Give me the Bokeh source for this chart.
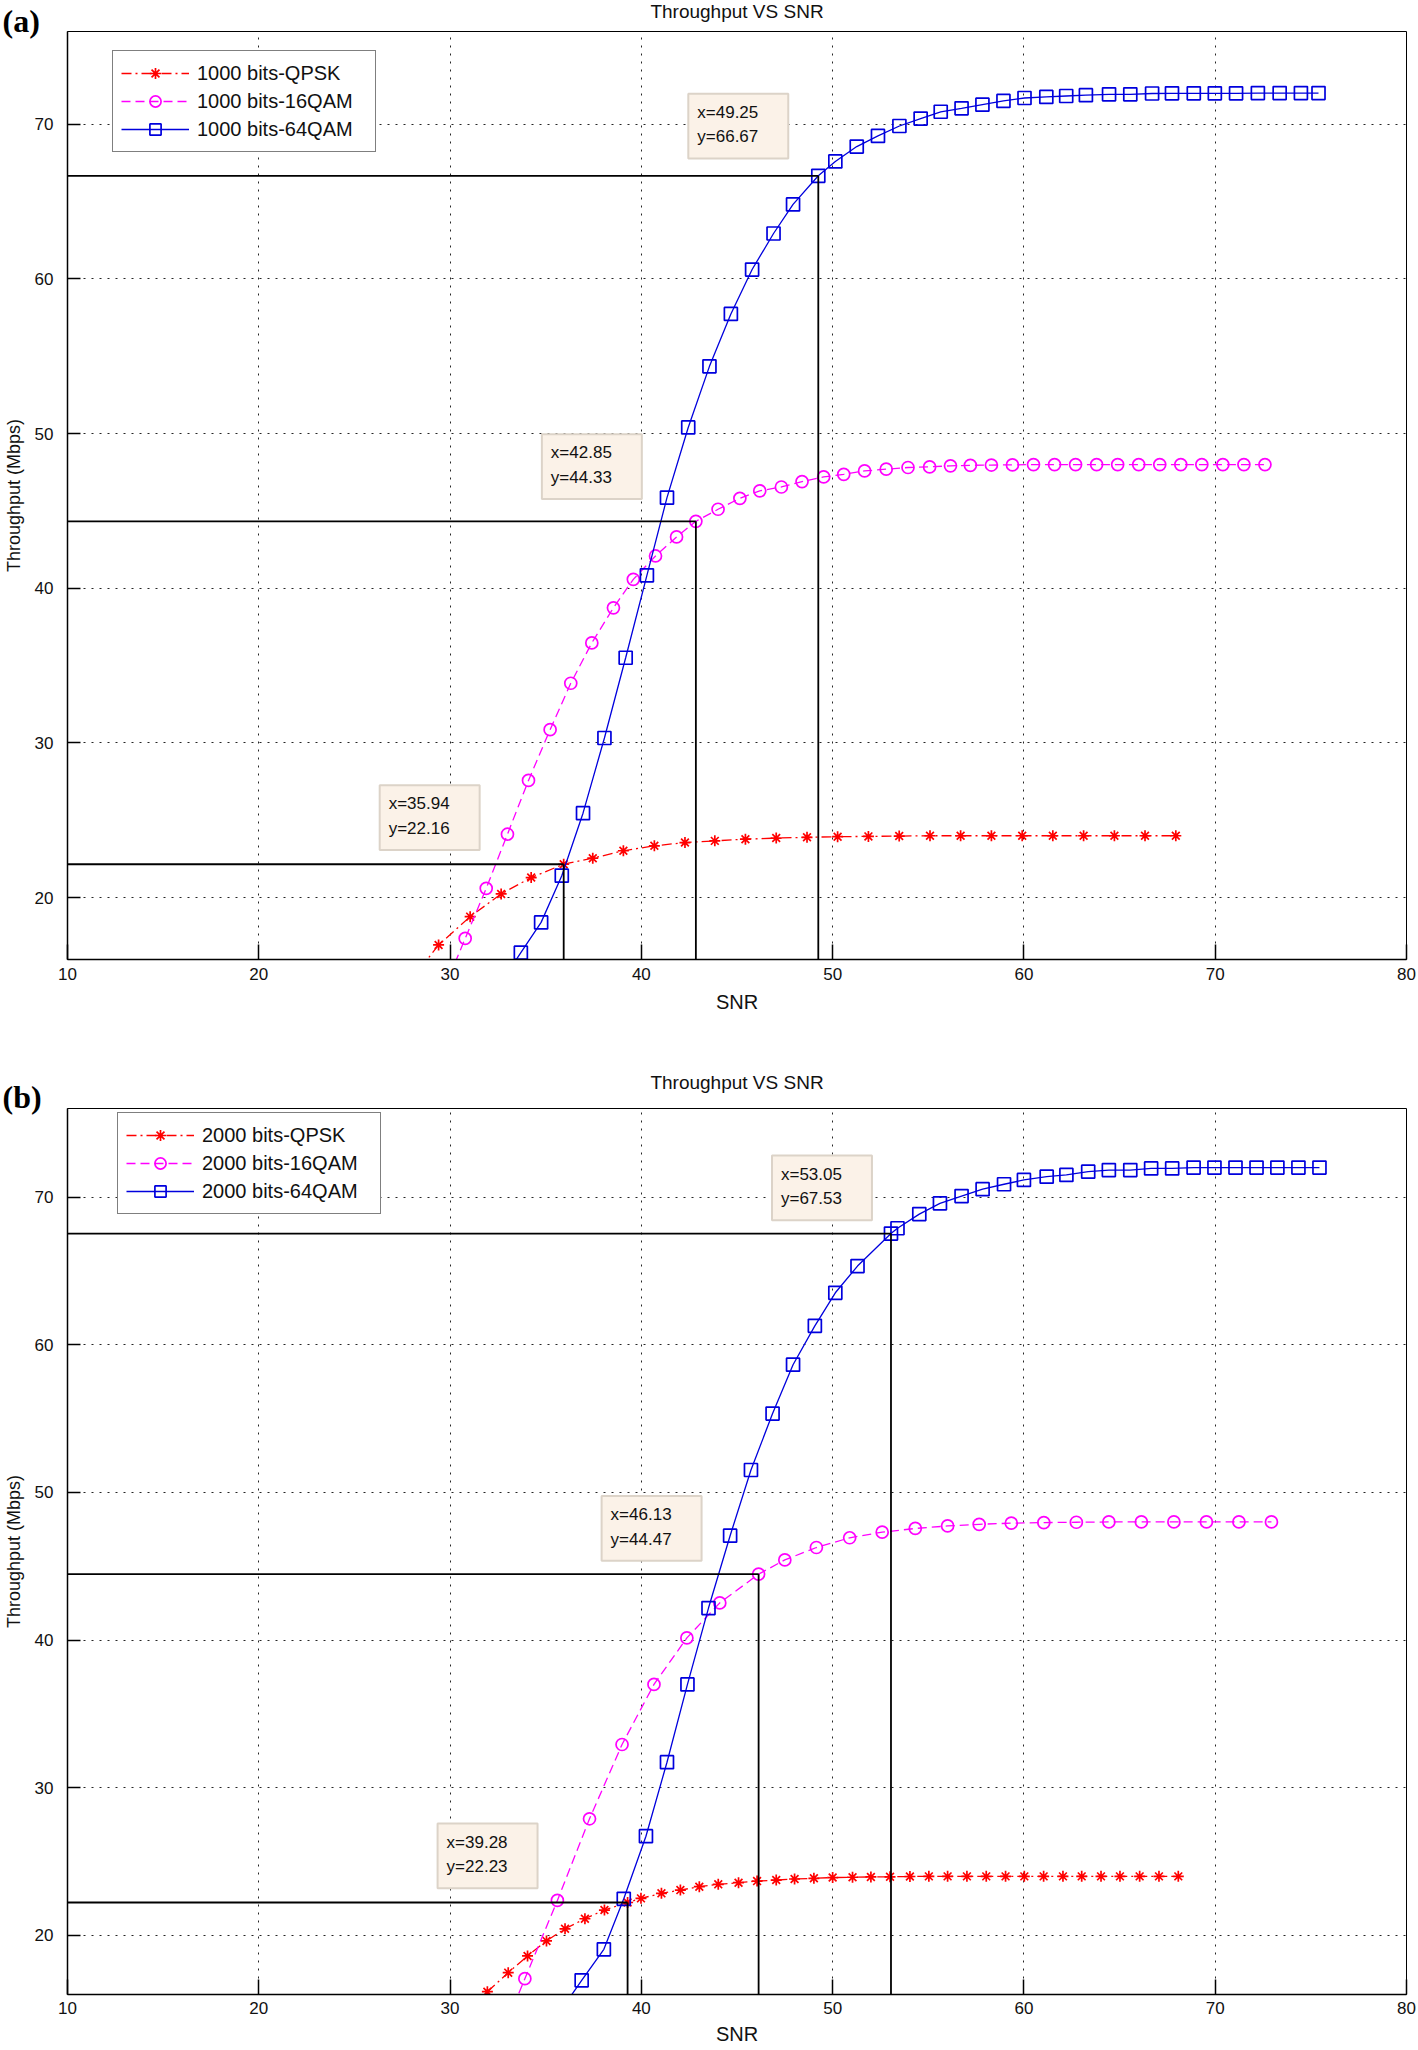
from bokeh.plotting import figure
from bokeh.layouts import column
from bokeh.models import Label, Legend, LegendItem, FixedTicker, Range1d, Title
from bokeh.embed import file_html
from bokeh.resources import INLINE

# ---------------- data : panel (a) ----------------
a_qpsk_x = [27.8, 29.40, 31.05, 32.67, 34.24, 35.94, 37.46, 39.06, 40.68, 42.28, 43.84, 45.44, 47.05,
            48.66, 50.26, 51.87, 53.48, 55.09, 56.69, 58.30, 59.91, 61.51, 63.12, 64.73, 66.33, 67.94]
a_qpsk_y = [14.4, 16.94, 18.77, 20.24, 21.30, 22.16, 22.55, 23.03, 23.35, 23.56, 23.67, 23.78, 23.85,
            23.90, 23.94, 23.96, 23.98, 24.0, 24.0, 24.0, 24.0, 24.0, 24.0, 24.0, 24.0, 24.0]

a_16qam_x = [29.69, 30.79, 31.89, 33.00, 34.10, 35.23, 36.31, 37.41, 38.54, 39.58, 40.74, 41.84, 42.85,
             44.01, 45.15, 46.19, 47.32, 48.40, 49.53, 50.58, 51.67, 52.80, 53.94, 55.07, 56.16, 57.2,
             58.3, 59.4, 60.5, 61.6, 62.7, 63.8, 64.9, 66.0, 67.1, 68.2, 69.3, 70.4, 71.5, 72.6]
a_16qam_y = [14.1, 17.36, 20.60, 24.10, 27.58, 30.86, 33.86, 36.47, 38.74, 40.58, 42.09, 43.32, 44.33,
             45.11, 45.82, 46.30, 46.55, 46.90, 47.20, 47.37, 47.59, 47.70, 47.81, 47.85, 47.92, 47.95,
             47.97, 47.98, 48.0, 48.0, 48.0, 48.0, 48.0, 48.0, 48.0, 48.0, 48.0, 48.0, 48.0, 48.0]

a_64qam_x = [32.6, 33.70, 34.76, 35.84, 36.95, 38.07, 39.18, 40.29, 41.34, 42.45, 43.56, 44.68, 45.79,
             46.91, 47.93, 49.25, 50.14, 51.26, 52.37, 53.49, 54.60, 55.65, 56.74, 57.83, 58.93, 60.03,
             61.17, 62.21, 63.24, 64.45, 65.56, 66.70, 67.74, 68.88, 69.98, 71.09, 72.23, 73.37, 74.48, 75.40]
a_64qam_y = [14.4, 16.44, 18.40, 21.42, 25.46, 30.32, 35.51, 40.84, 45.86, 50.40, 54.35, 57.74, 60.61,
             62.94, 64.82, 66.67, 67.6, 68.56, 69.25, 69.89, 70.37, 70.81, 71.03, 71.27, 71.51, 71.70,
             71.77, 71.83, 71.88, 71.94, 71.94, 71.99, 72.0, 72.0, 72.0, 72.0, 72.02, 72.02, 72.02, 72.02]

a_tips_x = [35.94, 42.85, 49.25]
a_tips_y = [22.16, 44.33, 66.67]

# ---------------- data : panel (b) ----------------
b_qpsk_x = [31.95, 33.04, 34.05, 35.04, 36.01, 37.05, 38.07, 39.28, 39.98, 41.05, 42.04, 43.03, 44.02,
            45.08, 46.05, 47.05, 48.01, 49.02, 50.0, 51.04, 52.0, 53.0, 54.04, 55.03, 56.01, 57.02,
            58.03, 59.04, 60.02, 61.03, 62.04, 63.02, 64.03, 65.02, 66.05, 67.06, 68.07]
b_qpsk_y = [16.19, 17.48, 18.61, 19.63, 20.45, 21.13, 21.72, 22.23, 22.51, 22.85, 23.07, 23.30, 23.46,
            23.57, 23.68, 23.75, 23.82, 23.87, 23.92, 23.94, 23.96, 23.97, 23.99, 24.0, 24.0, 24.0,
            24.0, 24.0, 24.0, 24.0, 24.0, 24.0, 24.0, 24.0, 24.0, 24.0, 24.0]

b_16qam_x = [32.2, 33.91, 35.61, 37.29, 38.99, 40.66, 42.38, 44.10, 46.13, 47.50, 49.15, 50.89, 52.59,
             54.32, 56.01, 57.66, 59.34, 61.04, 62.74, 64.44, 66.14, 67.84, 69.54, 71.24, 72.94]
b_16qam_y = [11.7, 17.07, 22.37, 27.90, 32.93, 37.0, 40.15, 42.52, 44.47, 45.43, 46.27, 46.93, 47.31,
             47.56, 47.73, 47.84, 47.92, 47.96, 47.98, 48.0, 48.0, 48.0, 48.0, 48.0, 48.0]

b_64qam_x = [35.78, 36.88, 38.04, 39.08, 40.24, 41.34, 42.41, 43.51, 44.64, 45.73, 46.86, 47.93, 49.07,
             50.14, 51.30, 53.05, 53.39, 54.53, 55.61, 56.74, 57.84, 58.96, 60.0, 61.19, 62.22, 63.36,
             64.44, 65.56, 66.65, 67.75, 68.87, 69.96, 71.06, 72.16, 73.25, 74.35, 75.45]
b_64qam_y = [14.9, 16.96, 19.06, 22.48, 26.72, 31.73, 37.0, 42.17, 47.07, 51.52, 55.34, 58.65, 61.28,
             63.52, 65.33, 67.53, 67.89, 68.85, 69.58, 70.07, 70.54, 70.87, 71.16, 71.38, 71.50, 71.72,
             71.83, 71.83, 71.94, 71.94, 72.0, 72.0, 72.0, 72.0, 72.0, 72.0, 72.0]

b_tips_x = [39.28, 46.13, 53.05]
b_tips_y = [22.23, 44.47, 67.53]

x_ticks = [10, 20, 30, 40, 50, 60, 70, 80]
y_ticks = [20, 30, 40, 50, 60, 70]
x_limits = (10, 80)
y_limits = (16, 76)

title_text = "Throughput VS SNR"
x_label = "SNR"
y_label = "Throughput (Mbps)"

# ---------------- styles ----------------
FONT = "Liberation Sans"
RED, MAGENTA, BLUE = "#FF0000", "#FF00FF", "#0000DD"
TIP_FILL, TIP_BORDER = "#FBF2E8", "#DCD3C8"


def make_panel(letter, labels, series, tips_x, tips_y, tip_offsets, legend_loc,
               height, border_top, border_bottom, title_standoff, letter_standoff,
               xlab_standoff, xaxis_label_standoff):
    p = figure(width=1418, height=height,
               x_range=Range1d(*x_limits), y_range=Range1d(*y_limits),
               output_backend="svg", toolbar_location=None, title=None,
               min_border_left=65, min_border_right=12,
               min_border_top=border_top, min_border_bottom=border_bottom,
               background_fill_color="white", border_fill_color="white")

    # panel letter (closest to frame) and the title above it
    p.add_layout(Title(text=letter, align="left", offset=-65, standoff=letter_standoff,
                       vertical_align="top",
                       text_font="Liberation Serif", text_font_style="bold",
                       text_font_size="32px", text_color="black"), "above")
    p.add_layout(Title(text=title_text, align="center", standoff=title_standoff,
                       vertical_align="bottom",
                       text_font=FONT, text_font_style="normal", text_font_size="19px",
                       text_color="#111111"), "above")

    p.outline_line_color = "black"
    p.outline_line_width = 1

    p.xaxis.ticker = FixedTicker(ticks=x_ticks)
    p.yaxis.ticker = FixedTicker(ticks=y_ticks)
    p.xgrid.ticker = FixedTicker(ticks=x_ticks)
    p.ygrid.ticker = FixedTicker(ticks=y_ticks)
    p.grid.grid_line_color = "black"
    p.grid.grid_line_dash = "2 6"
    p.grid.grid_line_alpha = 0.85
    p.grid.grid_line_width = 1

    for ax in (p.xaxis[0], p.yaxis[0]):
        ax.major_tick_out = 0
        ax.minor_tick_in = 0
        ax.minor_tick_out = 0
        ax.axis_line_color = "black"
        ax.axis_line_width = 1.5
        ax.major_tick_line_color = "black"
        ax.major_tick_line_width = 1.5
        ax.major_label_text_font = FONT
        ax.major_label_text_font_size = "17px"
        ax.major_label_text_color = "#111111"
        ax.axis_label_text_font = FONT
        ax.axis_label_text_font_style = "normal"
        ax.axis_label_text_color = "#111111"
    p.xaxis.major_tick_in = 15
    p.yaxis.major_tick_in = 13
    p.xaxis.axis_label = x_label
    p.yaxis.axis_label = y_label
    p.xaxis.axis_label_text_font_size = "20px"
    p.yaxis.axis_label_text_font_size = "18px"
    p.xaxis.major_label_standoff = xlab_standoff
    p.xaxis.axis_label_standoff = xaxis_label_standoff
    p.yaxis.major_label_standoff = 14
    p.yaxis.axis_label_standoff = 8

    items = []
    for (xs, ys, color, dash, marker, size), lab in zip(series, labels):
        r_line = p.line(xs, ys, line_color=color, line_width=1.3, line_dash=dash)
        r_pts = p.scatter(xs, ys, marker=marker, size=size, line_color=color,
                          fill_color=None, line_width=1.7)
        items.append(LegendItem(label=lab, renderers=[r_line, r_pts]))

    # data-tip reference lines
    n = len(tips_x)
    p.segment(x0=[x_limits[0]] * n, y0=tips_y, x1=tips_x, y1=tips_y,
              line_color="black", line_width=1.8)
    p.segment(x0=tips_x, y0=[y_limits[0]] * n, x1=tips_x, y1=tips_y,
              line_color="black", line_width=1.8)

    for tx, ty, (ox, oy) in zip(tips_x, tips_y, tip_offsets):
        p.add_layout(Label(x=tx, y=ty, x_offset=ox, y_offset=oy,
                           text=f"x={tx:.2f}\ny={ty:.2f}",
                           text_font=FONT, text_font_size="17px", text_color="#111111",
                           text_align="left", text_baseline="top", text_line_height=1.3,
                           background_fill_color=TIP_FILL, border_line_color=TIP_BORDER,
                           border_line_width=2,
                           padding=dict(left=9, right=30, top=9, bottom=12)))

    legend = Legend(items=items, location=legend_loc)
    legend.label_text_font = FONT
    legend.label_text_font_size = "20px"
    legend.label_text_color = "#111111"
    legend.glyph_width = 68
    legend.glyph_height = 28
    legend.label_height = 28
    legend.label_width = 170
    legend.spacing = 0
    legend.padding = 8
    legend.margin = 0
    legend.label_standoff = 8
    legend.border_line_color = "black"
    legend.border_line_width = 1
    legend.background_fill_color = "white"
    legend.background_fill_alpha = 1
    p.add_layout(legend)
    return p


series_a = [
    (a_qpsk_x, a_qpsk_y, RED, "10 4 2 4", "asterisk", 11),
    (a_16qam_x, a_16qam_y, MAGENTA, "9 5", "circle", 12),
    (a_64qam_x, a_64qam_y, BLUE, "solid", "square", 13),
]
series_b = [
    (b_qpsk_x, b_qpsk_y, RED, "10 4 2 4", "asterisk", 11),
    (b_16qam_x, b_16qam_y, MAGENTA, "9 5", "circle", 12),
    (b_64qam_x, b_64qam_y, BLUE, "solid", "square", 13),
]
labels_a = ["1000 bits-QPSK", "1000 bits-16QAM", "1000 bits-64QAM"]
labels_b = ["2000 bits-QPSK", "2000 bits-16QAM", "2000 bits-64QAM"]

offsets_a = [(-184, 79), (-154, 87), (-130, 82)]
offsets_b = [(-190, 79), (-157, 78), (-119, 78)]

p1 = make_panel("(a)", labels_a, series_a, a_tips_x, a_tips_y, offsets_a, (45, 807),
                height=1060, border_top=31, border_bottom=101,
                title_standoff=-21, letter_standoff=-18,
                xlab_standoff=8, xaxis_label_standoff=8)
p2 = make_panel("(b)", labels_b, series_b, b_tips_x, b_tips_y, offsets_b, (50, 780),
                height=988, border_top=48, border_bottom=54,
                title_standoff=-12, letter_standoff=-16,
                xlab_standoff=7, xaxis_label_standoff=6)

layout = column(p1, p2, spacing=0)
open("out.html", "w").write(file_html(layout, INLINE))
